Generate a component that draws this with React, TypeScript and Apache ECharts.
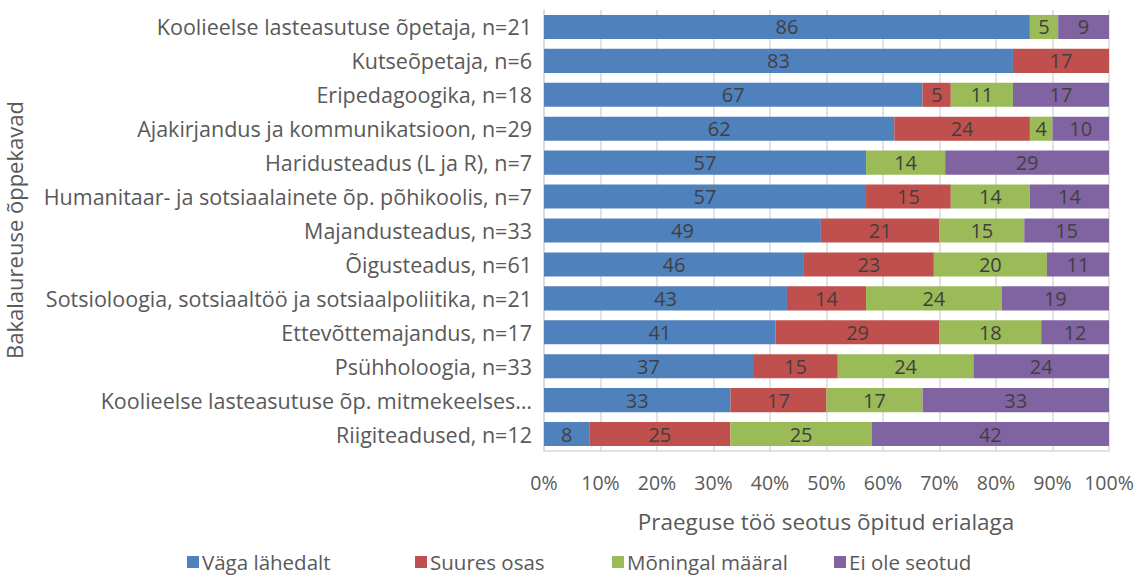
import React, { useEffect, useRef } from "react";
import * as echarts from "echarts";

const categories = [
  "Koolieelse lasteasutuse õpetaja, n=21",
  "Kutseõpetaja, n=6",
  "Eripedagoogika, n=18",
  "Ajakirjandus ja kommunikatsioon, n=29",
  "Haridusteadus (L ja R), n=7",
  "Humanitaar- ja sotsiaalainete õp. põhikoolis, n=7",
  "Majandusteadus, n=33",
  "Õigusteadus, n=61",
  "Sotsioloogia, sotsiaaltöö ja sotsiaalpoliitika, n=21",
  "Ettevõttemajandus, n=17",
  "Psühholoogia, n=33",
  "Koolieelse lasteasutuse õp. mitmekeelses…",
  "Riigiteadused, n=12",
];

const seriesNames = ["Väga lähedalt", "Suures osas", "Mõningal määral", "Ei ole seotud"];
const vagaLahedalt = [86, 83, 67, 62, 57, 57, 49, 46, 43, 41, 37, 33, 8];
const suuresOsas = [0, 17, 5, 24, 0, 15, 21, 23, 14, 29, 15, 17, 25];
const moningalMaaral = [5, 0, 11, 4, 14, 14, 15, 20, 24, 18, 24, 17, 25];
const eiOleSeotud = [9, 0, 17, 10, 29, 14, 15, 11, 19, 12, 24, 33, 42];
const colors = ["#4f81bd", "#c0504d", "#9bbb59", "#8064a2"];
const xTicks = [0, 10, 20, 30, 40, 50, 60, 70, 80, 90, 100];

const FONT = "Open Sans";

export default function App() {
  const ref = useRef<HTMLDivElement>(null);
  useEffect(() => {
    if (!ref.current) return;
    const chart = echarts.init(ref.current, null, { renderer: "svg" });
    const values = [vagaLahedalt, suuresOsas, moningalMaaral, eiOleSeotud];
    const legendLefts = [187, 415, 612, 834];
    chart.setOption({
      animation: false,
      textStyle: { fontFamily: FONT },
      grid: { left: 544, right: 29, top: 10, bottom: 125, containLabel: false },
      legend: seriesNames.map((n, i) => ({
        data: [n],
        left: legendLefts[i],
        top: 550,
        padding: 0,
        itemWidth: 12,
        itemHeight: 12,
        itemGap: 6,
        icon: "rect",
        textStyle: {
          fontFamily: FONT,
          fontSize: 20.5,
          lineHeight: 24,
          color: "#595959",
          padding: [0, 0, 0, -2],
        },
      })),
      xAxis: {
        type: "value",
        min: xTicks[0],
        max: xTicks[xTicks.length - 1],
        interval: 10,
        axisLabel: {
          formatter: (v: number) => v + "%",
          fontSize: 19.5,
          color: "#595959",
          fontFamily: FONT,
          margin: 21,
        },
        axisLine: { show: true, lineStyle: { color: "#d9d9d9", width: 1.5 } },
        axisTick: { show: false },
        splitLine: { show: true, lineStyle: { color: "#d9d9d9", width: 1.5 } },
      },
      yAxis: {
        type: "category",
        data: categories,
        inverse: true,
        axisLabel: { fontSize: 21.5, color: "#595959", fontFamily: FONT, margin: 12 },
        axisLine: { show: true, lineStyle: { color: "#d9d9d9", width: 1.5 } },
        axisTick: { show: false },
      },
      series: seriesNames.map((n, i) => ({
        name: n,
        type: "bar",
        stack: "total",
        data: values[i],
        barCategoryGap: "29%",
        itemStyle: { color: colors[i] },
        label: {
          show: true,
          position: "inside",
          formatter: (p: any) => (p.value ? String(p.value) : ""),
          fontSize: 20,
          color: "#404040",
          fontFamily: FONT,
        },
      })),
      graphic: [
        {
          type: "text",
          x: 14,
          y: 230,
          rotation: Math.PI / 2,
          style: {
            text: "Bakalaureuse õppekavad",
            fontSize: 22,
            fontFamily: FONT,
            fill: "#595959",
            textAlign: "center",
            textVerticalAlign: "middle",
          },
        },
        {
          type: "text",
          x: 826,
          y: 521,
          style: {
            text: "Praeguse töö seotus õpitud erialaga",
            fontSize: 22.5,
            fontFamily: FONT,
            fill: "#595959",
            textAlign: "center",
            textVerticalAlign: "middle",
          },
        },
      ],
    });
    return () => chart.dispose();
  }, []);
  return (
    <div
      ref={ref}
      style={{ position: "fixed", left: 0, top: 0, width: 1138, height: 576, background: "#fff" }}
    />
  );
}
